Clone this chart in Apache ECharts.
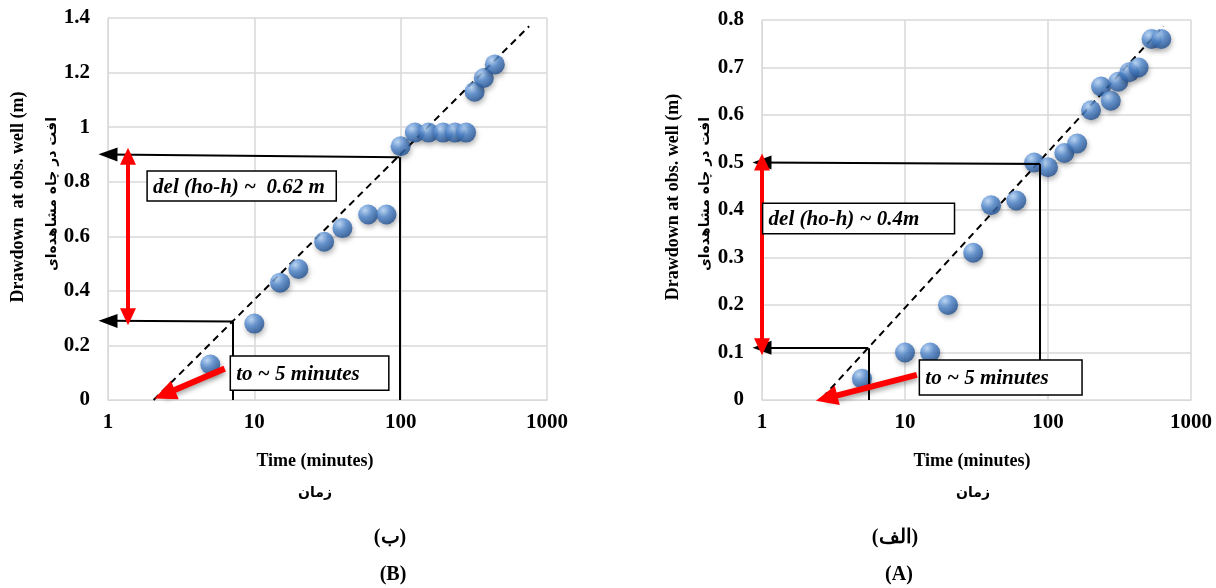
<!DOCTYPE html>
<html lang="fa">
<head>
<meta charset="UTF-8">
<title>Drawdown vs time</title>
<script src="https://cdn.jsdelivr.net/npm/echarts@6/dist/echarts.min.js"></script>
<style>
  html, body { margin: 0; padding: 0; background: #fff; }
  #chart { width: 1216px; height: 588px; }
</style>
</head>
<body>
<div id="chart"></div>
<script>
// ---- chart (B), left: time (min) vs drawdown (m)
var timeB = [5, 10, 15, 20, 30, 40, 60, 80, 100, 125, 155, 195, 235, 280, 320, 370, 440];
var drawB = [0.13, 0.28, 0.43, 0.48, 0.58, 0.63, 0.68, 0.68, 0.93, 0.98, 0.98, 0.98, 0.98, 0.98, 1.13, 1.18, 1.23];
var fitB = [[2.05, 0], [755, 1.37]];            // straight-line fit on semi-log paper

// ---- chart (A), right
var timeA = [5, 10, 15, 20, 30, 40, 60, 80, 100, 130, 160, 200, 235, 275, 310, 370, 430, 530, 620];
var drawA = [0.045, 0.1, 0.1, 0.2, 0.31, 0.41, 0.42, 0.5, 0.49, 0.52, 0.54, 0.61, 0.66, 0.63, 0.67, 0.69, 0.7, 0.76, 0.76];
var fitA = [[2.65, 0.005], [642, 0.787]];

// y axis ranges [max, step]
var yRangeB = [1.4, 0.2];
var yRangeA = [0.8, 0.1];

// annotations (data coordinates)
var arrowsB = [[[98, 0.89], [1, 0.9]], [[7.17, 0.288], [1, 0.29]]];
var dropsB = [[[98, 0.89], [98, 0]], [[7.17, 0.288], [7.17, 0]]];
var spanB = [[1.37, 0.893], [1.37, 0.305]];
var t0B = [[6.27, 0.115], [2.44, 0.021]];
var boxesB = [
  { text: 'del (ho-h) ~  0.62 m', from: [1.85, 0.839], to: [36.3, 0.729] },
  { text: 'to ~ 5 minutes', from: [6.85, 0.161], to: [83, 0.036] }
];

var arrowsA = [[[88, 0.497], [1, 0.5]], [[5.54, 0.109], [1, 0.11]]];
var dropsA = [[[88, 0.497], [88, 0.01]], [[5.54, 0.109], [5.54, 0]]];
var spanA = [[1, 0.501], [1, 0.112]];
var t0A = [[12.1, 0.053], [2.83, 0.004]];
var boxesA = [
  { text: 'del (ho-h) ~ 0.4m', from: [1.01, 0.414], to: [22.2, 0.35] },
  { text: 'to ~ 5 minutes', from: [12.6, 0.084], to: [173, 0.0105] }
];

var SERIF = '"Liberation Serif", "Times New Roman", serif';
var GRID = '#d9d9d9';

function pairs(xs, ys) {
  return xs.map(function (x, i) { return [x, ys[i]]; });
}

function guides(arrows, drops, span, t0) {
  var black = { color: '#000', width: 2, type: 'solid' };
  var d = [];
  arrows.forEach(function (s) {
    d.push([{ coord: s[0], symbol: 'none', lineStyle: black },
            { coord: s[1], symbol: 'triangle', symbolSize: [14, 19] }]);
  });
  drops.forEach(function (s) {
    d.push([{ coord: s[0], symbol: 'none', lineStyle: black },
            { coord: s[1], symbol: 'none' }]);
  });
  d.push([{ coord: span[0], symbol: 'triangle', symbolSize: [16, 17],
            lineStyle: { color: '#ff0000', width: 4, type: 'solid' } },
          { coord: span[1], symbol: 'triangle', symbolSize: [16, 17] }]);
  d.push([{ coord: t0[0], symbol: 'none',
            lineStyle: { color: '#ff0000', width: 6, type: 'solid',
                         shadowBlur: 5, shadowColor: 'rgba(0,0,0,0.35)', shadowOffsetY: 3 } },
          { coord: t0[1], symbol: 'triangle', symbolSize: [20, 22] }]);
  return d;
}

var sphere = {
  color: new echarts.graphic.RadialGradient(0.35, 0.3, 0.75, [
    { offset: 0, color: '#b5d6fa' },
    { offset: 0.45, color: '#4f87cf' },
    { offset: 1, color: '#1d4c8c' }
  ]),
  shadowBlur: 5,
  shadowColor: 'rgba(0,0,0,0.35)',
  shadowOffsetX: 1,
  shadowOffsetY: 3
};

function xAxis(i) {
  return {
    gridIndex: i, type: 'log', logBase: 10, min: 1, max: 1000,
    axisLine: { show: true, lineStyle: { color: GRID } },
    axisTick: { show: false },
    minorTick: { show: false },
    splitLine: { show: true, lineStyle: { color: GRID, width: 1.5 } },
    axisLabel: { color: '#000', fontFamily: SERIF, fontWeight: 'bold', fontSize: 21, margin: 12,
                 formatter: function (v) { return String(Math.round(v)); } }
  };
}

function yAxis(i, range) {
  return {
    gridIndex: i, type: 'value', min: 0, max: range[0], interval: range[1],
    axisLine: { show: true, lineStyle: { color: GRID } },
    axisTick: { show: false },
    splitLine: { show: true, lineStyle: { color: GRID, width: 1.5 } },
    axisLabel: { color: '#000', fontFamily: SERIF, fontWeight: 'bold', fontSize: 21, margin: 18 }
  };
}

function plotSeries(i, pts, fit, marks) {
  return [
    {
      type: 'line', xAxisIndex: i, yAxisIndex: i, data: fit, symbol: 'none', z: 2,
      lineStyle: { color: '#000', width: 2, type: [7, 5] },
      markLine: { silent: true, label: { show: false }, data: marks, z: 4 }
    },
    {
      type: 'scatter', xAxisIndex: i, yAxisIndex: i, data: pts,
      symbolSize: 20, itemStyle: sphere, z: 3
    }
  ];
}

var chart = echarts.init(document.getElementById('chart'));
chart.setOption({
  animation: false,
  backgroundColor: '#fff',
  grid: [
    { left: 108, top: 18, width: 439, height: 382 },
    { left: 762, top: 20, width: 429, height: 380 }
  ],
  xAxis: [xAxis(0), xAxis(1)],
  yAxis: [yAxis(0, yRangeB), yAxis(1, yRangeA)],
  series: plotSeries(0, pairs(timeB, drawB), fitB, guides(arrowsB, dropsB, spanB, t0B))
    .concat(plotSeries(1, pairs(timeA, drawA), fitA, guides(arrowsA, dropsA, spanA, t0A)))
});

function label(text, x, y, font, rot) {
  return {
    type: 'text', x: x, y: y, rotation: rot || 0, z: 100,
    style: { text: text, font: font, fill: '#000', align: 'center', verticalAlign: 'middle' }
  };
}

function boxes(list, gi) {
  return list.map(function (b) {
    var p1 = chart.convertToPixel({ gridIndex: gi }, b.from);
    var p2 = chart.convertToPixel({ gridIndex: gi }, b.to);
    return {
      type: 'group', z: 100,
      children: [
        { type: 'rect', z: 100,
          shape: { x: p1[0], y: p1[1], width: p2[0] - p1[0], height: p2[1] - p1[1] },
          style: { fill: '#fff', stroke: '#000', lineWidth: 1.5 } },
        { type: 'text', z: 101, x: p1[0] + 6, y: (p1[1] + p2[1]) / 2 + 1,
          style: { text: b.text, font: 'italic bold 21px ' + SERIF, fill: '#000',
                   align: 'left', verticalAlign: 'middle' } }
      ]
    };
  });
}

var titleFont = 'bold 18px ' + SERIF;
var faFont = 'bold 14px "DejaVu Sans", sans-serif';
var capFont = 'bold 20px ' + SERIF;

chart.setOption({
  graphic: [
    label('Drawdown  at obs. well (m)', 18, 197, titleFont, Math.PI / 2),
    label('افت در چاه مشاهده‌ای', 52, 194, faFont, Math.PI / 2),
    label('Time (minutes)', 315, 461, titleFont),
    label('زمان', 315, 493, faFont),
    label('(ب)', 390, 538, capFont),
    label('(B)', 393, 575, capFont),
    label('Drawdown at obs. well (m)', 673, 197, titleFont, Math.PI / 2),
    label('افت در چاه مشاهده‌ای', 705, 194, faFont, Math.PI / 2),
    label('Time (minutes)', 972, 461, titleFont),
    label('زمان', 973, 493, faFont),
    label('(الف)', 895, 538, capFont),
    label('(A)', 899, 575, capFont)
  ].concat(boxes(boxesB, 0)).concat(boxes(boxesA, 1))
});
</script>
</body>
</html>
